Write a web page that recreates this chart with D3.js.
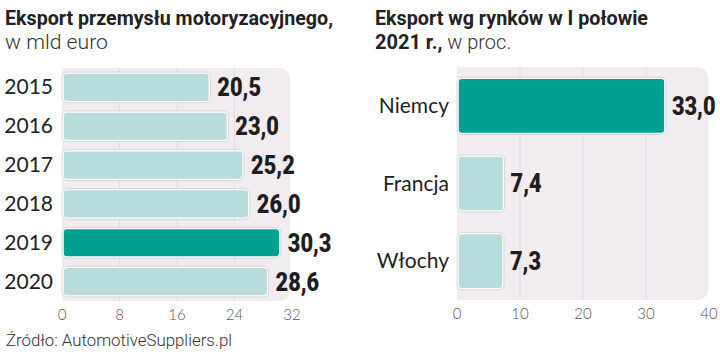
<!DOCTYPE html>
<html><head><meta charset="utf-8">
<script src="https://cdn.jsdelivr.net/npm/d3@7"></script>
<style>body{margin:0;background:#fff}svg{display:block}</style>
</head><body><svg id="c" width="720" height="361"></svg>
<script>
const years = ["2015","2016","2017","2018","2019","2020"];
const exportValues = [20.5, 23.0, 25.2, 26.0, 30.3, 28.6];
const leftTicks = [0, 8, 16, 24, 32];
const markets = ["Niemcy","Francja","Włochy"];
const marketShares = [33.0, 7.4, 7.3];
const rightTicks = [0, 10, 20, 30, 40];
const highlightYear = "2019", highlightMarket = "Niemcy";

const svg = d3.select("#c");
const teal = "#00a093", light = "#b8dcdc", bg = "#f1ecf0", grid = "#e2dbe1";
const fmt = v => v.toFixed(1).replace(".", ",");

// titles
svg.append("text").attr("x",5).attr("y",25).attr("font-family","Roboto").attr("font-weight",700)
  .attr("font-size",20.5).attr("fill","#222").attr("textLength",328).attr("lengthAdjust","spacingAndGlyphs")
  .text("Eksport przemysłu motoryzacyjnego,");
svg.append("text").attr("x",5).attr("y",49).attr("font-family","Roboto").attr("font-weight",300)
  .attr("font-size",20).attr("fill","#333").attr("textLength",103).attr("lengthAdjust","spacingAndGlyphs").text("w mld euro");
svg.append("text").attr("x",375).attr("y",25).attr("font-family","Roboto").attr("font-weight",700)
  .attr("font-size",20.5).attr("fill","#222").attr("textLength",273).attr("lengthAdjust","spacingAndGlyphs")
  .text("Eksport wg rynków w I połowie");
const t2 = svg.append("text").attr("x",375).attr("y",49).attr("font-family","Roboto").attr("font-size",20).attr("fill","#222");
t2.append("tspan").attr("font-weight",700).text("2021 r.,");
t2.append("tspan").attr("font-weight",300).attr("fill","#333").text(" w proc.");

svg.append("text").attr("x",6).attr("y",346).attr("font-family","Roboto").attr("font-weight",300)
  .attr("font-size",17).attr("fill","#333").attr("textLength",226).attr("lengthAdjust","spacingAndGlyphs").text("Źródło: AutomotiveSuppliers.pl");

function panel(opts){
  const {cats, vals, ticks, x0, x1, dmax, top, bottom, bgRight, hl, labelX, pad, bandPad, catSize} = opts;
  const x = d3.scaleLinear().domain([0,dmax]).range([x0,x1]);
  const y = d3.scaleBand().domain(cats).range([top,bottom]).paddingInner(bandPad).paddingOuter(bandPad/2);
  const g = svg.append("g");
  const bgTop = top, bgBot = bottom;
  g.append("path").attr("fill",bg)
    .attr("d",`M${x0},${bgTop}H${bgRight-12}Q${bgRight},${bgTop} ${bgRight},${bgTop+12}V${bgBot-12}Q${bgRight},${bgBot} ${bgRight-12},${bgBot}H${x0}Z`);
  g.selectAll("line.g").data(ticks.slice(1,-1)).join("line")
    .attr("x1",d=>x(d)).attr("x2",d=>x(d)).attr("y1",bgTop).attr("y2",bgBot)
    .attr("stroke",grid).attr("stroke-width",1);
  g.selectAll("rect.b").data(cats).join("rect")
    .attr("x",x(0)+1).attr("y",d=>y(d)).attr("height",y.bandwidth())
    .attr("width",(d,i)=>x(vals[i])-x(0)-1)
    .attr("rx",4).attr("fill",d=>d===hl?teal:light)
    .attr("stroke","#fff").attr("stroke-width",1.5);
  g.selectAll("rect.o").data(cats).join("rect")
    .attr("x",x(0)).attr("y",d=>y(d)-1).attr("height",y.bandwidth()+2)
    .attr("width",(d,i)=>x(vals[i])-x(0)+1)
    .attr("rx",5).attr("fill","none")
    .attr("stroke","#cfcfcf").attr("stroke-width",0.8);
  g.selectAll("text.v").data(cats).join("text")
    .attr("x",(d,i)=>x(vals[i])+pad).attr("y",d=>y(d)+y.bandwidth()/2+9)
    .attr("font-family","Roboto").attr("font-weight",900).attr("font-size",25)
    .attr("fill","#1e1e1e").attr("transform",(d,i)=>{const px=x(vals[i])+pad;return `translate(${px},0) scale(0.87,1) translate(${-px},0)`;})
    .text((d,i)=>fmt(vals[i]));
  g.selectAll("text.c").data(cats).join("text")
    .attr("x",labelX).attr("y",d=>y(d)+y.bandwidth()/2+7)
    .attr("text-anchor","end").attr("font-family","Lato").attr("font-size",catSize).attr("fill","#222")
    .text(d=>d);
  g.selectAll("text.t").data(ticks).join("text")
    .attr("x",d=>x(d)).attr("y",bottom+19).attr("text-anchor","middle")
    .attr("font-family","Lato").attr("font-weight",300).attr("font-size",15).attr("fill","#555")
    .text(d=>d);
}
panel({cats:years, vals:exportValues, ticks:leftTicks, x0:62, x1:292, dmax:32, top:68, bottom:301, bgRight:290, hl:highlightYear, labelX:53, pad:8, bandPad:0.26, catSize:21});
panel({cats:markets, vals:marketShares, ticks:rightTicks, x0:457, x1:709, dmax:40, top:67, bottom:300, bgRight:708, hl:highlightMarket, labelX:449, pad:7, bandPad:0.29, catSize:21});
</script></body></html>
